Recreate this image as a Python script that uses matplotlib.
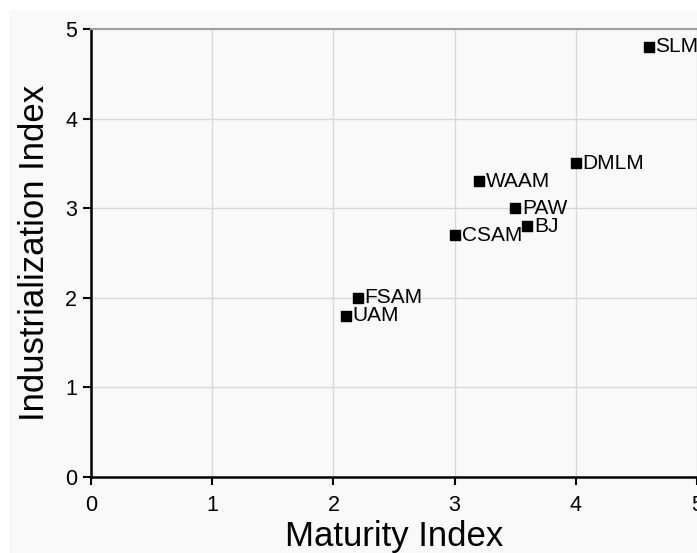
import matplotlib
matplotlib.use("Agg")
import matplotlib.pyplot as plt
from matplotlib.patches import Rectangle

# Process data: maturity vs. industrialization
processes = ["SLM", "DMLM", "WAAM", "PAW", "BJ", "CSAM", "FSAM", "UAM"]
maturity = [4.6, 4.0, 3.2, 3.5, 3.6, 3.0, 2.2, 2.1]
industrialization = [4.8, 3.5, 3.3, 3.0, 2.8, 2.7, 2.0, 1.8]
ticks = [0, 1, 2, 3, 4, 5]

plt.rcParams["font.family"] = ["Liberation Sans", "DejaVu Sans"]

W, H = 697, 553
fig = plt.figure(figsize=(W / 100, H / 100), dpi=100)
fig.patch.set_facecolor("white")
bg = "#f9f9f9"
fig.add_artist(Rectangle((10 / W, 0), 1 - 10 / W, 1 - 10 / H,
                         transform=fig.transFigure, facecolor=bg,
                         edgecolor="none", zorder=-10))

left, right, top, bottom = 91, 697, 29, 477
ax = fig.add_axes([left / W, 1 - bottom / H, (right - left) / W, (bottom - top) / H])
ax.set_facecolor(bg)

ax.set_xlim(0, 5)
ax.set_ylim(0, 5)
ax.set_xticks(ticks)
ax.set_yticks(ticks)
ax.grid(True, color="#d9d9d9", linewidth=1.0)
ax.set_axisbelow(True)

for s in ("left", "bottom"):
    ax.spines[s].set_color("black")
    ax.spines[s].set_linewidth(1.8)
ax.spines["top"].set_color("#a0a0a0")
ax.spines["top"].set_linewidth(1.5)
ax.spines["right"].set_visible(False)

ax.tick_params(axis="both", direction="out", length=6, width=1.5,
               labelsize=15.5, colors="black")
ax.tick_params(axis="x", pad=7)
ax.tick_params(axis="y", pad=4)

ax.scatter(maturity, industrialization, marker="s", s=60, color="black",
           zorder=3, clip_on=False)

for name, x, y in zip(processes, maturity, industrialization):
    ax.annotate(name, (x, y), xytext=(5, 0), textcoords="offset points",
                fontsize=15, va="center", ha="left", annotation_clip=False)

ax.set_xlabel("Maturity Index", fontsize=25, labelpad=3)
ax.set_ylabel("Industrialization Index", fontsize=25, labelpad=10)

fig.savefig("out.png", dpi=100)
